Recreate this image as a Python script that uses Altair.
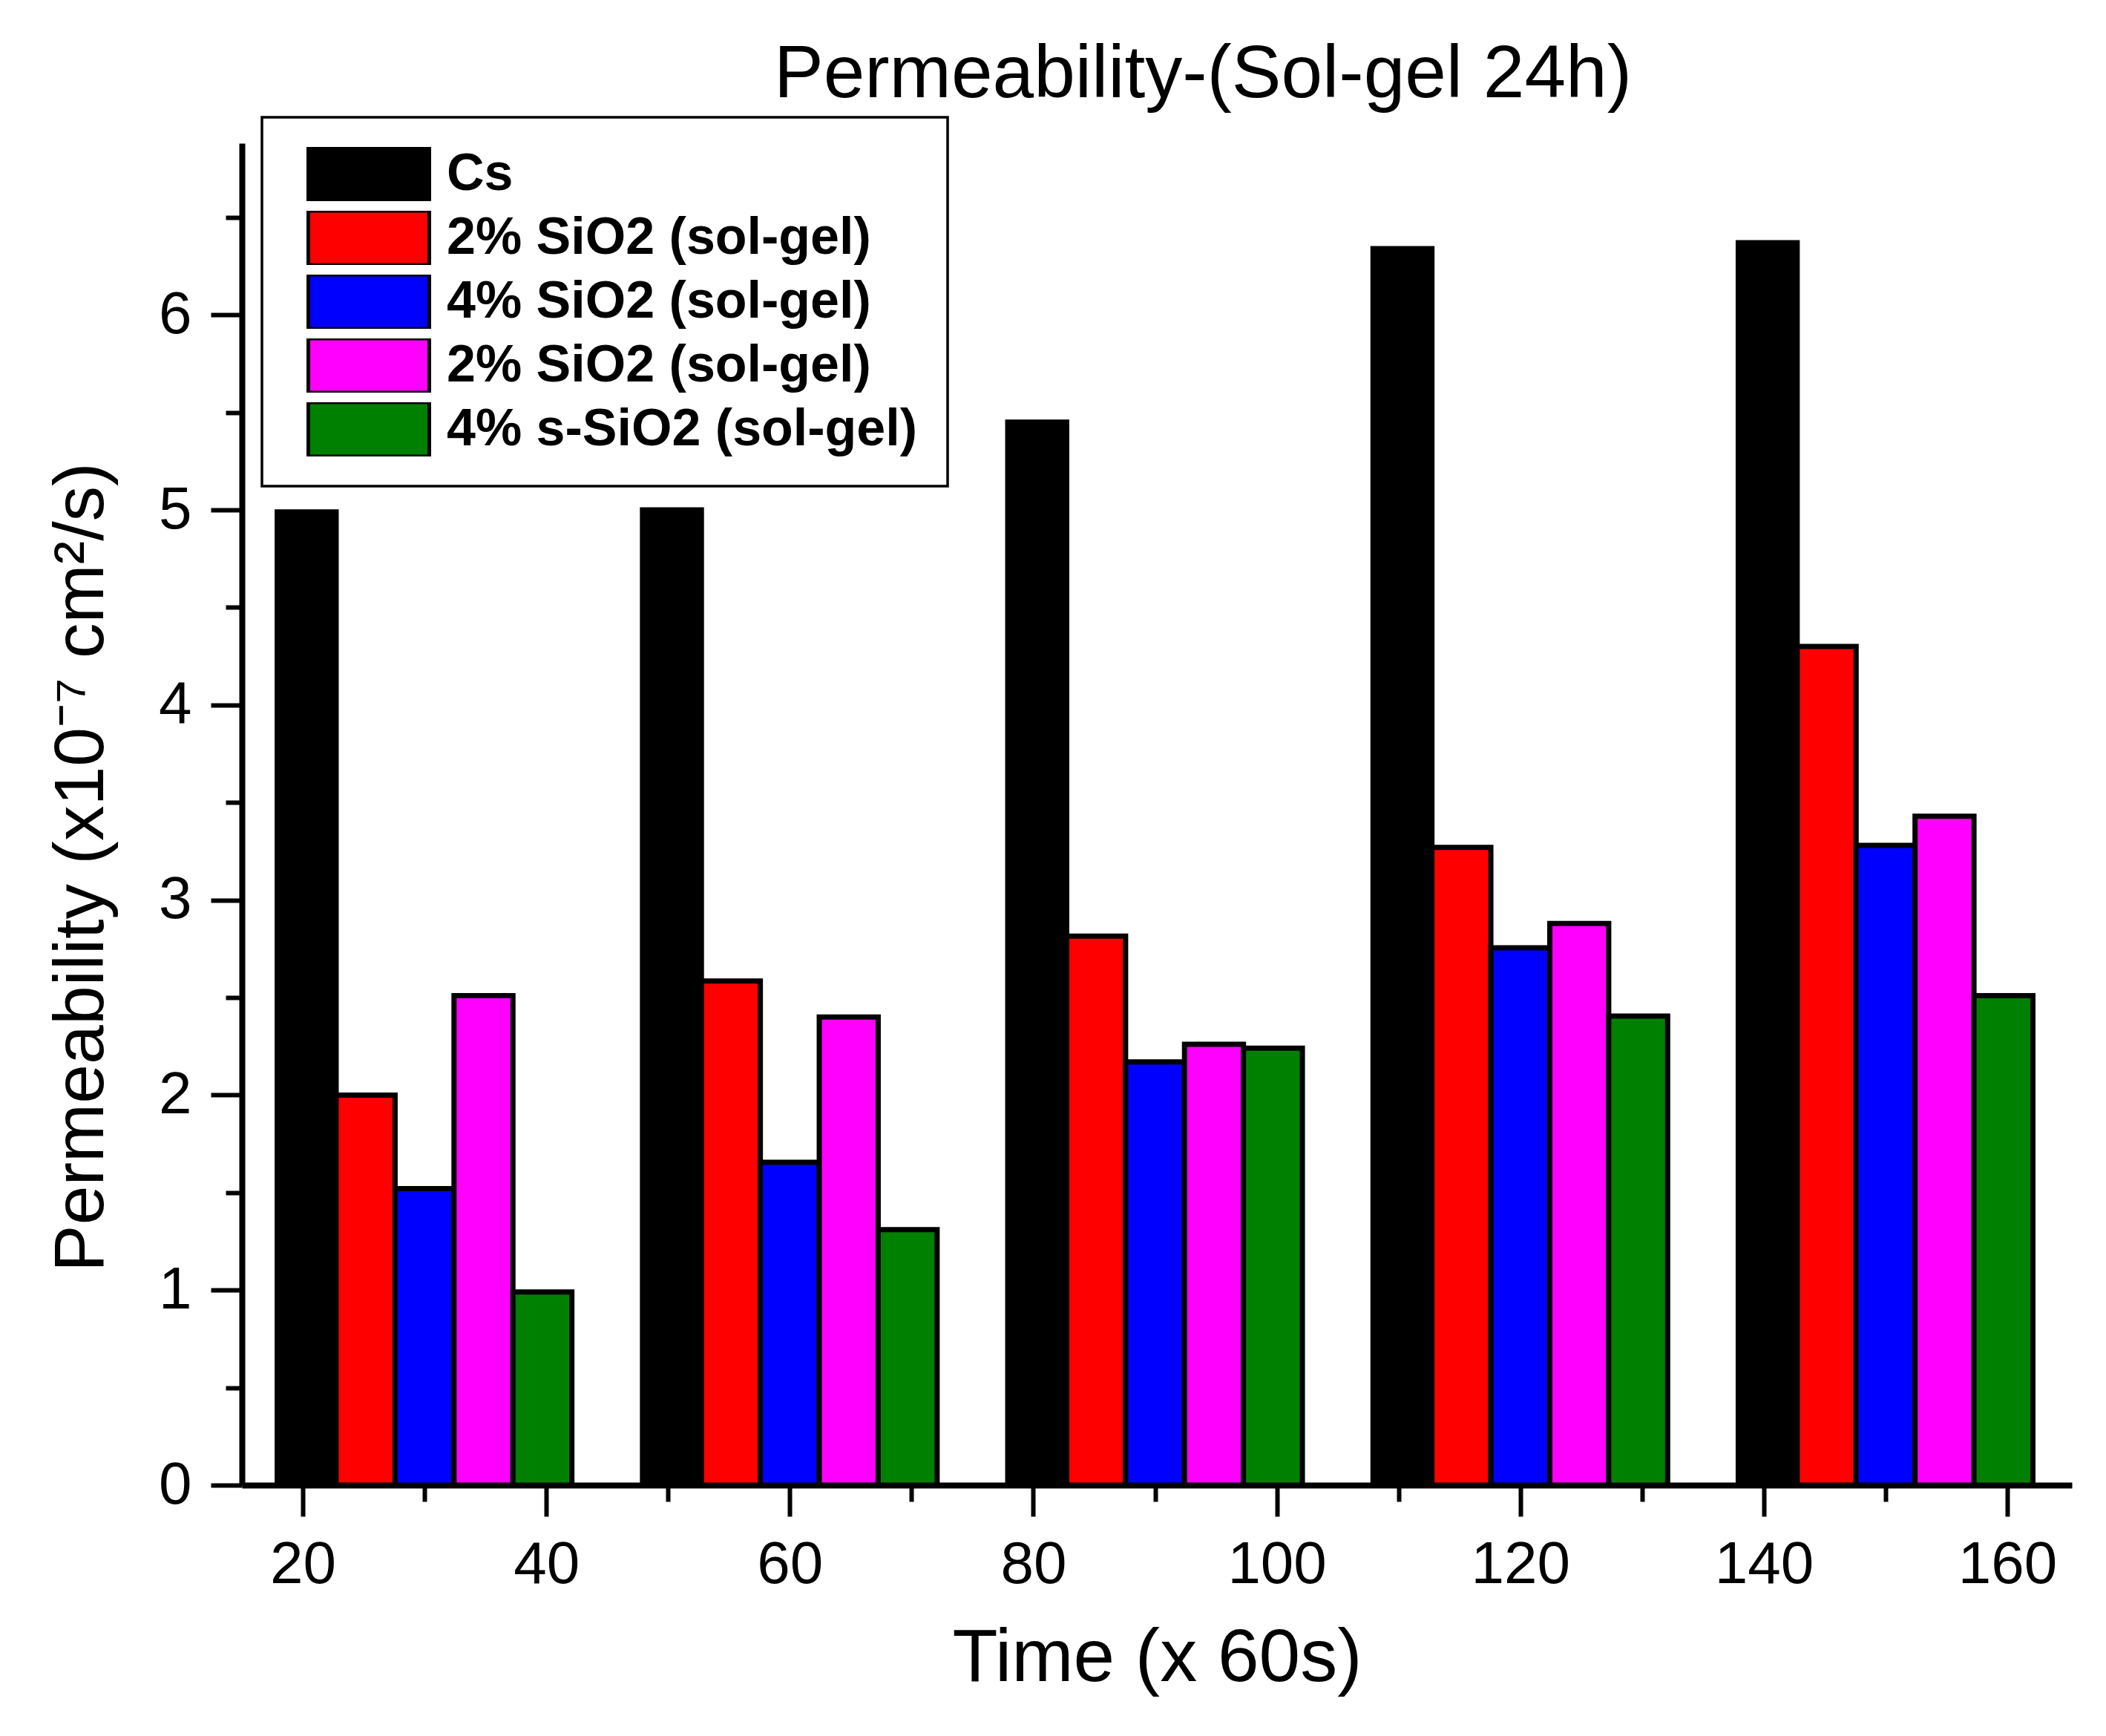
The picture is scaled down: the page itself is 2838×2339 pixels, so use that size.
import json

import altair as alt
import pandas as pd

# time points (x 60s) at which each group of bars is centred
times = [30, 60, 90, 120, 150]

# permeability values (x10^-7 cm^2/s), one list per series
cs = [4.99, 5.00, 5.45, 6.34, 6.37]
sio2_2 = [2.00, 2.585, 2.815, 3.27, 4.30]
sio2_4 = [1.52, 1.655, 2.17, 2.755, 3.28]
sio2_2b = [2.51, 2.40, 2.26, 2.88, 3.43]
ssio2_4 = [0.99, 1.31, 2.24, 2.405, 2.51]

series_labels = [
    "Cs",
    "2% SiO2 (sol-gel)",
    "4% SiO2 (sol-gel)",
    "2% SiO2 (sol-gel)",
    "4% s-SiO2 (sol-gel)",
]
series_keys = ["s0", "s1", "s2", "s3", "s4"]
series_colors = ["#000000", "#ff0000", "#0000ff", "#ff00ff", "#008000"]
series_values = [cs, sio2_2, sio2_4, sio2_2b, ssio2_4]

rows = []
for k, vals in enumerate(series_values):
    for t, v in zip(times, vals):
        rows.append({"t": t, "k": k, "key": series_keys[k], "value": v})
source = pd.DataFrame(rows)

BAR_W = 4.84
FONT = "Liberation Sans"

# trailing no-break spaces only widen the legend box to the reference's size
label_expr = "{}[indexof({}, datum.value)] + '\u00a0\u00a0\u00a0'".format(
    json.dumps(series_labels), json.dumps(series_keys)
)

bars = (
    alt.Chart(source)
    .transform_calculate(
        x0=f"datum.t + (datum.k - 2.5) * {BAR_W}",
        x1=f"datum.t + (datum.k - 1.5) * {BAR_W}",
    )
    .mark_bar(stroke="black", strokeWidth=7)
    .encode(
        alt.X(
            "x0:Q",
            scale=alt.Scale(domain=[15, 165.3], nice=False, zero=False),
            axis=alt.Axis(
                title="Time (x 60s)",
                values=list(range(20, 161, 10)),
                labelExpr="datum.value % 20 === 0 ? datum.label : ''",
                tickSize={"condition": {"test": "datum.value % 20 === 0", "value": 42}, "value": 22},
                labelPadding=26,
                titleBaseline="alphabetic",
                titleY=263,
            ),
        ),
        alt.X2("x1:Q"),
        alt.Y(
            "value:Q",
            scale=alt.Scale(domain=[0, 6.88], nice=False),
            axis=alt.Axis(
                title="Permeability (x10⁻⁷ cm²/s)",
                values=[i / 2 for i in range(0, 14)],
                format=".0f",
                labelExpr="datum.value % 1 === 0 ? datum.label : ''",
                tickSize={"condition": {"test": "datum.value % 1 === 0", "value": 42}, "value": 22},
                labelPadding=26,
                titleBaseline="alphabetic",
                titleX=-188,
                titleY=975,
                titleFontSize=95,
            ),
        ),
        alt.Y2(datum=0),
        alt.Color(
            "key:N",
            scale=alt.Scale(domain=series_keys, range=series_colors),
            legend=alt.Legend(
                title=None,
                orient="none",
                legendX=27,
                legendY=-35,
                labelExpr=label_expr,
                symbolType="M-1,-0.448H1V0.448H-1Z",
                symbolSize=26569,
                symbolStrokeColor="black",
                symbolStrokeWidth=5,
                symbolOpacity=1,
                symbolOffset=20,
                clipHeight=73,
                labelOffset=21,
                labelFont=FONT,
                labelFontSize=70,
                labelFontWeight="bold",
                labelColor="black",
                labelLimit=1200,
                padding=40,
                strokeColor="black",
                fillColor="white",
            ),
        ),
    )
)

chart = (
    bars.properties(
        width=2466,
        height=1808,
        title=alt.TitleParams(
            "Permeability-(Sol-gel 24h)",
            font=FONT,
            fontSize=100,
            fontWeight="normal",
            color="black",
            anchor="middle",
            baseline="alphabetic",
            offset=-75,
            dx=62,
        ),
        autosize=alt.AutoSizeParams(type="none"),
        padding={"left": 318, "top": 185, "right": 30, "bottom": 322},
    )
    .configure_view(stroke=None)
    .configure_legend(strokeWidth=3.5, rowPadding=13, labelBaseline="middle")
    .configure_axis(
        grid=False,
        domainColor="black",
        domainWidth=8,
        tickColor="black",
        tickWidth=6,
        labelColor="black",
        labelFont=FONT,
        labelFontSize=80,
        labelFlush=False,
        labelOverlap=False,
        titleFont=FONT,
        titleFontSize=100,
        titleFontWeight="normal",
        titleColor="black",
        zindex=1,
    )
)

chart.save("out.html", embed_options={"renderer": "svg", "actions": False})
